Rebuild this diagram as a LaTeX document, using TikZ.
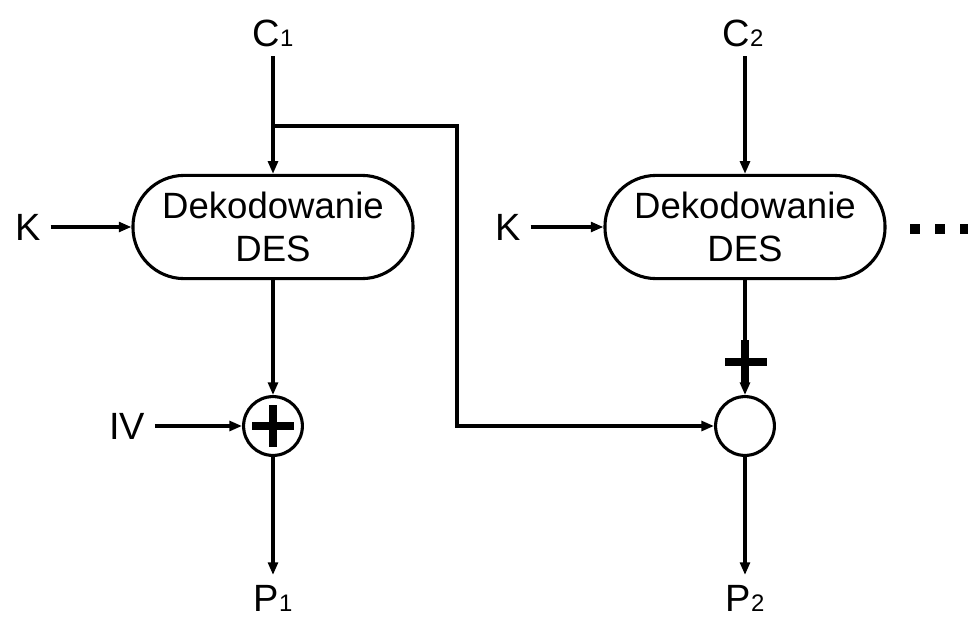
\documentclass[tikz,border=0pt]{standalone}
\usepackage{fontspec}
\setmainfont{Liberation Sans}
\usepackage{tikz}
\usetikzlibrary{arrows.meta,positioning}
\newcommand{\idx}[2]{#1{\fontsize{17}{17}\selectfont #2}}

\begin{document}
\begin{tikzpicture}[
    x=0.025cm, y=-0.025cm,
    line width=2.2pt,
    >={Triangle[length=9pt,width=7pt]},
    lbl/.style={font=\fontsize{27}{30}\selectfont, inner sep=6pt},
    desbox/.style={rectangle, rounded corners=1.28cm, draw, minimum width=7cm, minimum height=2.58cm, align=center, font=\fontsize{26}{30}\selectfont, inner sep=0pt},
    xorc/.style={circle, draw, minimum size=1.47cm, inner sep=0pt},
    plusbar/.style={line width=5pt}
]
\useasboundingbox (0,0) rectangle (968,619);

% Block 1
\node[lbl] (c1) at (273,33) {\idx{C}{1}};
\node[desbox] (des1) at (273,227) {Dekodowanie\\DES};
\node[lbl] (k1) at (28,227) {K};
\node[xorc] (xor1) at (273,426) {};
\node[lbl] (iv) at (127,426) {IV};
\node[lbl] (p1) at (273,598) {\idx{P}{1}};
\coordinate (br) at (273,126);
\coordinate (turn) at (457,126);

% Block 2
\node[lbl] (c2) at (743,33) {\idx{C}{2}};
\node[desbox] (des2) at (745,227) {Dekodowanie\\DES};
\node[lbl] (k2) at (508,227) {K};
\node[xorc] (xor2) at (745,426) {};
\node[lbl] (p2) at (745,598) {\idx{P}{2}};

% Connectors
\draw[->] (des1.north |- c1.south) -- (des1.north);
\draw[->] (k1) -- (des1.west);
\draw[->] (des1) -- (xor1.north);
\draw[->] (iv) -- (xor1.west);
\draw[->] (xor1) -- (p1);
\draw[->] (br) -- (turn) |- (xor2.west);
\draw[->] (des2.north |- c2.south) -- (des2.north);
\draw[->] (k2) -- (des2.west);
\draw[->] (des2) -- (xor2.north);
\draw[->] (xor2) -- (p2);

% Plus signs
\draw[plusbar] ([xshift=-21*0.025cm]xor1.center) -- ([xshift=21*0.025cm]xor1.center);
\draw[plusbar] ([yshift=21*0.025cm]xor1.center) -- ([yshift=-21*0.025cm]xor1.center);
\draw[plusbar] (725,362) -- (767,362);
\draw[plusbar] (745,340) -- (745,384);

% Continuation dots
\foreach \x in {910,935,960}
  \fill (\x,224) rectangle ++(10,10);

\end{tikzpicture}
\end{document}
